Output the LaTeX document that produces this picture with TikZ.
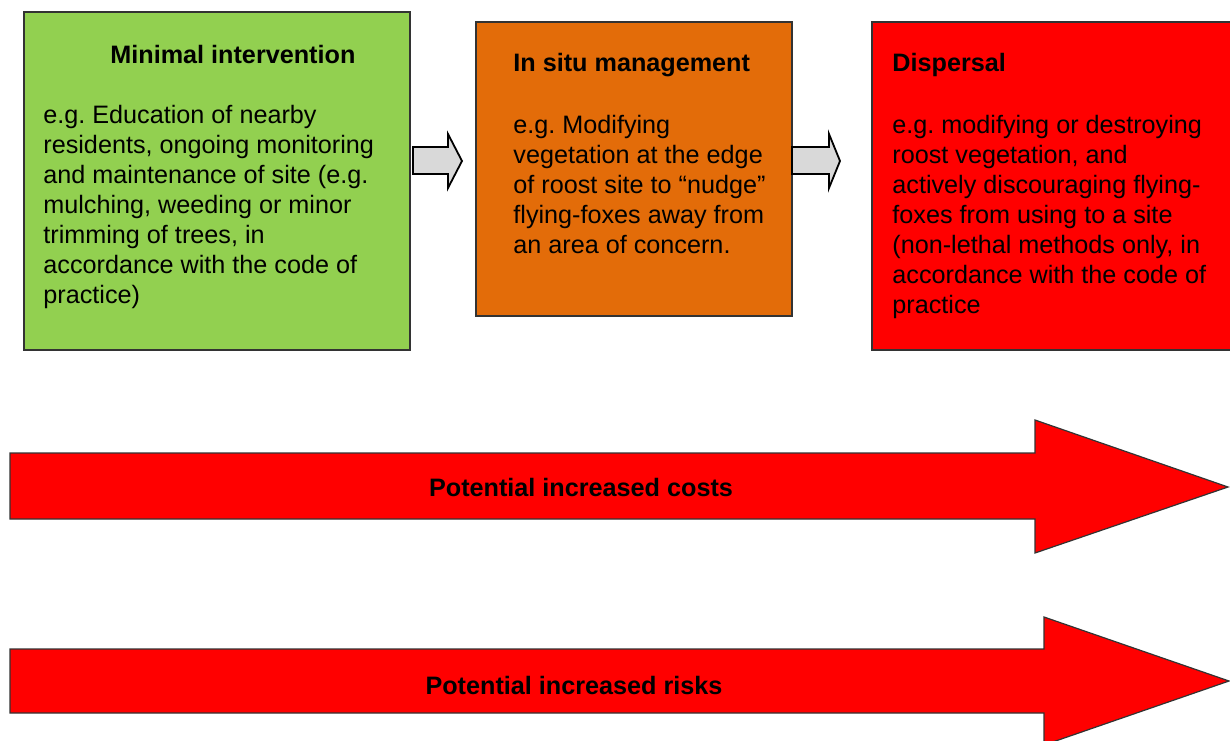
\documentclass[tikz,border=0pt]{standalone}
\usepackage{fontspec}
\setmainfont{Liberation Sans}

\definecolor{boxgreen}{HTML}{92D050}
\definecolor{boxorange}{HTML}{E36C09}
\definecolor{arrowgrey}{HTML}{D9D9D9}
\definecolor{edge}{HTML}{333333}

\newcommand{\diagfont}{\fontsize{12.6}{15}\selectfont\frenchspacing}

\tikzset{
  box/.style={draw=edge, line width=0.8pt},
  title/.style={anchor=base west, inner sep=0pt, font=\diagfont\bfseries},
  % multi-line text: placed by the baseline of its last line
  body/.style={anchor=base west, inner sep=0pt, align=left, font=\diagfont},
  label/.style={anchor=base, inner sep=0pt, font=\diagfont\bfseries},
  bigarrow/.style={draw=edge, line width=0.6pt, fill=red},
  smallarrow/.style={draw=black, line width=0.9pt, fill=arrowgrey},
}

\begin{document}
\begin{tikzpicture}[x=0.5pt, y=-0.5pt]
  \useasboundingbox (0,0) rectangle (1230,740);

  % the three options
  \draw[box, fill=boxgreen]  (24,12)  rectangle (410,350);
  \draw[box, fill=boxorange] (476,22) rectangle (792,316);
  \draw[box, fill=red]       (872,22) rectangle (1240,350);

  \node[title] (minimal) at (110,63) {Minimal intervention};
  \node[body] (minimal text) at (43,303) {e.g. Education of nearby\\
    residents, ongoing monitoring\\
    and maintenance of site (e.g.\\
    mulching, weeding or minor\\
    trimming of trees, in\\
    accordance with the code of\\
    practice)};

  \node[title] (insitu) at (513,71) {In situ management};
  \node[body] (insitu text) at (513,253) {e.g. Modifying\\
    vegetation at the edge\\
    of roost site to “nudge”\\
    flying-foxes away from\\
    an area of concern.};

  \node[title] (dispersal) at (892,71) {Dispersal};
  \node[body] (dispersal text) at (892,313) {e.g. modifying or destroying\\
    roost vegetation, and\\
    actively discouraging flying-\\
    foxes from using to a site\\
    (non-lethal methods only, in\\
    accordance with the code of\\
    practice};

  % steps between the boxes
  \draw[smallarrow] (413,147) -- (448,147) -- (448,134) -- (462,161)
    -- (448,188) -- (448,174) -- (413,174) -- cycle;
  \draw[smallarrow] (792,147) -- (829,147) -- (829,134) -- (840,161)
    -- (829,188) -- (829,174) -- (792,174) -- cycle;

  % costs and risks
  \draw[bigarrow] (10,453) -- (1035,453) -- (1035,420) -- (1228,487)
    -- (1035,553) -- (1035,519) -- (10,519) -- cycle;
  \node[label] (costs) at (581,496) {Potential increased costs};

  \draw[bigarrow] (10,649) -- (1044,649) -- (1044,617) -- (1229,681)
    -- (1044,745) -- (1044,713) -- (10,713) -- cycle;
  \node[label] (risks) at (574,694) {Potential increased risks};
\end{tikzpicture}
\end{document}
